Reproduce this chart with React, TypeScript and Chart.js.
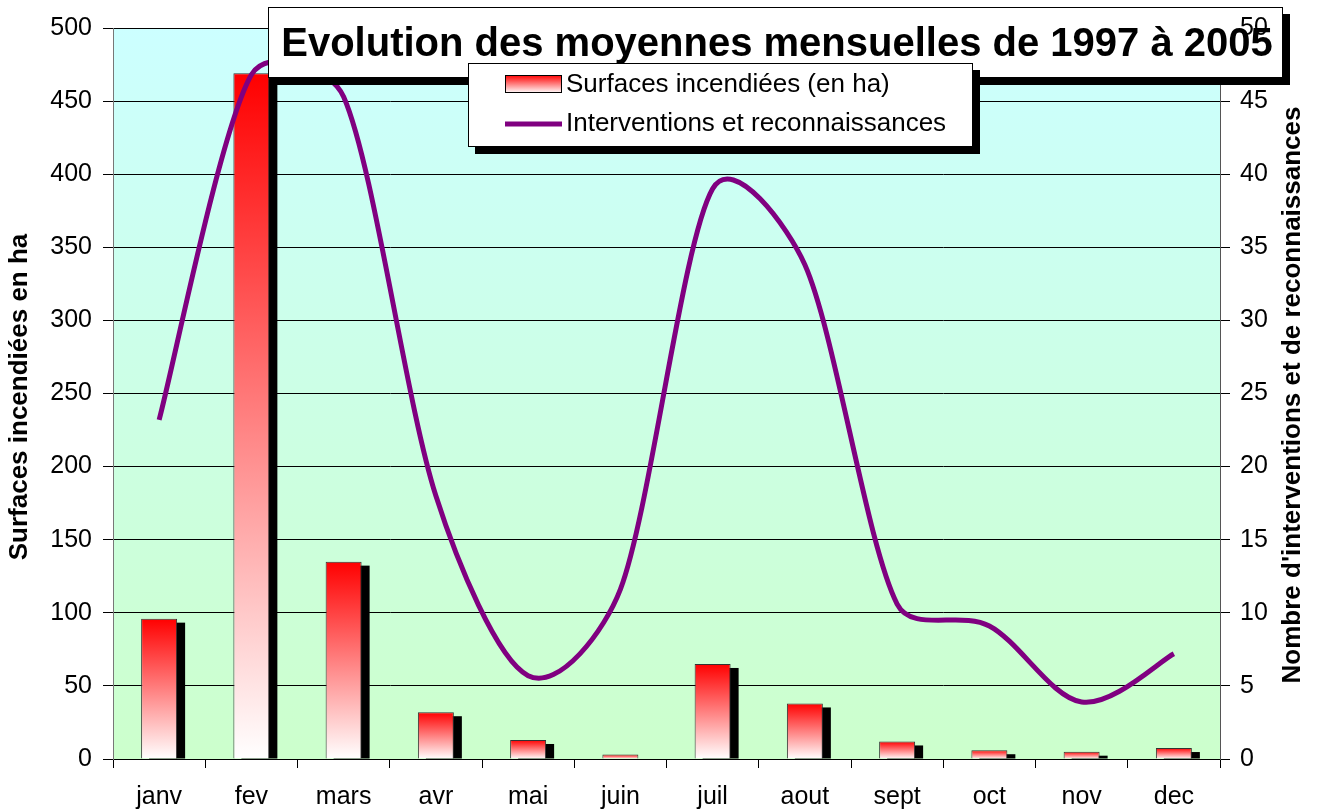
import React, { useEffect, useRef } from 'react';
import { Chart, registerables } from 'chart.js';
Chart.register(...registerables);

const months = ['janv', 'fev', 'mars', 'avr', 'mai', 'juin', 'juil', 'aout', 'sept', 'oct', 'nov', 'dec'];
const surfaces = [96, 469, 135, 32, 13, 3, 65, 38, 12, 6, 5, 7.5];
const interventions = [23.2, 46.8, 45.3, 18, 5.7, 11.6, 39.0, 33.8, 10.6, 9.1, 3.9, 7.2];
const leftAxis = { min: 0, max: 500, step: 50 };
const rightAxis = { min: 0, max: 50, step: 5 };

const titleText = 'Evolution des moyennes mensuelles de 1997 à 2005';
const leftTitle = 'Surfaces incendiées en ha';
const rightTitle = "Nombre d'interventions et de reconnaissances";
const legendBar = 'Surfaces incendiées (en ha)';
const legendLine = 'Interventions et reconnaissances';

const FAMILY = "'Liberation Sans', Arial, sans-serif";
const PURPLE = '#800080';

function drawBox(ctx: CanvasRenderingContext2D, x: number, y: number, w: number, h: number, sh: number) {
  ctx.fillStyle = '#000';
  ctx.fillRect(x + sh, y + sh, w, h);
  ctx.fillStyle = '#fff';
  ctx.fillRect(x, y, w, h);
  ctx.strokeStyle = '#000';
  ctx.lineWidth = 1;
  ctx.strokeRect(x + 0.5, y + 0.5, w - 1, h - 1);
}

const decor = {
  id: 'decor',
  beforeDraw(chart: any) {
    const { ctx, chartArea: a } = chart;
    ctx.save();
    const g = ctx.createLinearGradient(0, a.top, 0, a.bottom);
    g.addColorStop(0, '#CCFFFF');
    g.addColorStop(1, '#CCFFCC');
    ctx.fillStyle = g;
    ctx.fillRect(a.left, a.top, a.right - a.left, a.bottom - a.top);
    // axis titles
    ctx.fillStyle = '#000';
    ctx.font = `bold 26px ${FAMILY}`;
    ctx.textAlign = 'center';
    ctx.textBaseline = 'middle';
    ctx.translate(20, 397);
    ctx.rotate(-Math.PI / 2);
    ctx.fillText(leftTitle, 0, 0);
    ctx.setTransform(1, 0, 0, 1, 0, 0);
    ctx.translate(1293, 395);
    ctx.rotate(-Math.PI / 2);
    ctx.fillText(rightTitle, 0, 0);
    ctx.restore();
  },
  beforeDatasetDraw(chart: any, args: any) {
    const { ctx } = chart;
    if (args.index === 0) {
      const meta = chart.getDatasetMeta(0);
      ctx.save();
      ctx.fillStyle = '#000';
      meta.data.forEach((el: any) => {
        const { x, y, base, width } = el.getProps(['x', 'y', 'base', 'width'], true);
        const h = base - y - 4;
        if (h > 0) ctx.fillRect(x - width / 2 + 8, y + 4, width, h);
      });
      ctx.restore();
    } else if (args.index === 1) {
      // Spreadsheet-style smoothing: Catmull-Rom arms (1/6 of neighbour span),
      // each arm limited to a fraction of its own segment length.
      const meta = chart.getDatasetMeta(1);
      const line: any = meta.dataset;
      if (line && line.updateControlPoints) line.updateControlPoints(chart.chartArea, 'x');
      const pts: any[] = meta.data as any[];
      const R = 0.35;
      for (let i = 0; i < pts.length; i++) {
        const p = pts[i];
        const prev = pts[i - 1] || p;
        const next = pts[i + 1] || p;
        const vx = (next.x - prev.x) / 6;
        const vy = (next.y - prev.y) / 6;
        const vl = Math.hypot(vx, vy) || 1;
        const d01 = Math.hypot(p.x - prev.x, p.y - prev.y);
        const d12 = Math.hypot(next.x - p.x, next.y - p.y);
        const k1 = Math.min(1, (R * d01) / vl);
        const k2 = Math.min(1, (R * d12) / vl);
        p.cp1x = p.x - vx * k1;
        p.cp1y = p.y - vy * k1;
        p.cp2x = p.x + vx * k2;
        p.cp2y = p.y + vy * k2;
      }
      if (line) line._path = undefined;
    }
  },
  afterDatasetsDraw(chart: any) {
    const { ctx } = chart;
    ctx.save();
    // title box
    drawBox(ctx, 268, 7, 1015, 71, 7);
    ctx.fillStyle = '#000';
    ctx.font = `bold 40px ${FAMILY}`;
    ctx.textAlign = 'center';
    ctx.textBaseline = 'alphabetic';
    ctx.fillText(titleText, 777, 56);
    // legend box
    drawBox(ctx, 468, 63, 505, 84, 7);
    const g = ctx.createLinearGradient(0, 75, 0, 93);
    g.addColorStop(0, '#FF0000');
    g.addColorStop(1, '#FFFFFF');
    ctx.fillStyle = g;
    ctx.fillRect(505, 75, 57, 18);
    ctx.strokeStyle = '#000';
    ctx.lineWidth = 1;
    ctx.strokeRect(505.5, 75.5, 56, 17);
    ctx.strokeStyle = PURPLE;
    ctx.lineWidth = 5;
    ctx.beginPath();
    ctx.moveTo(505, 124);
    ctx.lineTo(562, 124);
    ctx.stroke();
    ctx.fillStyle = '#000';
    ctx.font = `26px ${FAMILY}`;
    ctx.textAlign = 'left';
    ctx.textBaseline = 'middle';
    ctx.fillText(legendBar, 566, 85);
    ctx.fillText(legendLine, 566, 124);
    ctx.restore();
  },
};

export default function App() {
  const ref = useRef<HTMLCanvasElement>(null);
  useEffect(() => {
    const tickFont = { family: FAMILY, size: 25 };
    const chart = new Chart(ref.current as HTMLCanvasElement, {
      type: 'bar',
      data: {
        labels: months,
        datasets: [
          {
            type: 'bar',
            label: legendBar,
            data: surfaces,
            yAxisID: 'y',
            order: 1,
            categoryPercentage: 1,
            barPercentage: 0.39,
            borderWidth: 1,
            borderColor: '#333',
            backgroundColor: (c: any) => {
              const chart = c.chart;
              const ys = chart.scales && chart.scales.y;
              if (!ys || c.raw == null) return '#FF0000';
              const top = ys.getPixelForValue(c.raw);
              const bot = ys.getPixelForValue(0);
              if (!isFinite(top) || !isFinite(bot) || bot - top < 1) return '#FF8080';
              const g = chart.ctx.createLinearGradient(0, top, 0, bot);
              g.addColorStop(0, '#FF0000');
              g.addColorStop(1, '#FFFFFF');
              return g;
            },
          } as any,
          {
            type: 'line',
            label: legendLine,
            data: interventions,
            yAxisID: 'y1',
            order: 0,
            borderColor: PURPLE,
            borderWidth: 5,
            pointRadius: 0,
            tension: 0.4,
            fill: false,
          } as any,
        ],
      },
      options: {
        responsive: false,
        animation: false,
        layout: { padding: { top: 28, left: 0, right: 0, bottom: 0 } },
        plugins: { legend: { display: false }, tooltip: { enabled: false }, title: { display: false } },
        scales: {
          x: {
            offset: true,
            grid: { offset: true, drawOnChartArea: false, drawTicks: true, tickLength: 9, color: '#000', tickColor: '#000' },
            border: { color: '#000', width: 1 },
            ticks: { color: '#000', font: tickFont, padding: 14, maxRotation: 0, autoSkip: false },
            afterFit: (s: any) => { s.height = 52; },
          },
          y: {
            position: 'left',
            min: leftAxis.min,
            max: leftAxis.max,
            ticks: { stepSize: leftAxis.step, color: '#000', font: tickFont, padding: 11 },
            grid: { color: '#000', tickLength: 10, tickColor: '#000' },
            border: { color: '#777', width: 1 },
            afterFit: (s: any) => { s.width = 113; },
          },
          y1: {
            position: 'right',
            min: rightAxis.min,
            max: rightAxis.max,
            ticks: { stepSize: rightAxis.step, color: '#000', font: tickFont, padding: 10, z: 1 },
            grid: { drawOnChartArea: false, tickLength: 10, tickColor: '#000' },
            border: { color: '#555', width: 1 },
            afterFit: (s: any) => { s.width = 98; },
          },
        },
      } as any,
      plugins: [decor],
    });
    return () => chart.destroy();
  }, []);
  return (
    <div style={{ position: 'fixed', left: 0, top: 0, width: 1318, height: 811, background: '#fff' }}>
      <canvas ref={ref} width={1318} height={811} style={{ display: 'block' }} />
    </div>
  );
}
